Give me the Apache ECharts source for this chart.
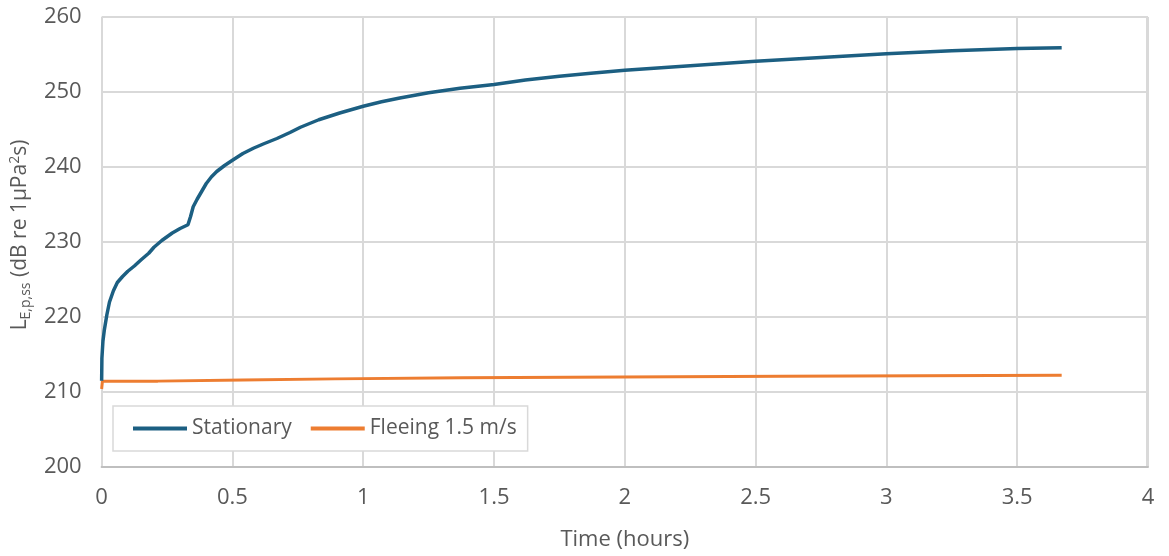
<!DOCTYPE html>
<html><head><meta charset="utf-8">
<script src="https://cdn.jsdelivr.net/npm/echarts@6/dist/echarts.min.js"></script>
<style>html,body{margin:0;padding:0;background:#fff}#c{width:1169px;height:556px}</style>
</head><body><div id="c"></div>
<script>
const stationaryT = [0, 0.001, 0.005, 0.01, 0.02, 0.03, 0.045, 0.06, 0.08, 0.1, 0.125, 0.15, 0.18, 0.2, 0.23, 0.27, 0.3, 0.33, 0.34, 0.35, 0.365, 0.38, 0.4, 0.42, 0.44, 0.47, 0.5, 0.54, 0.58, 0.62, 0.67, 0.72, 0.76, 0.83, 0.91, 1.0, 1.07, 1.14, 1.25, 1.37, 1.5, 1.62, 1.75, 1.87, 2.0, 2.25, 2.5, 2.75, 3.0, 3.25, 3.5, 3.67];
const stationaryV = [211.5, 214.5, 216.8, 218.2, 220.3, 222.0, 223.5, 224.6, 225.4, 226.1, 226.8, 227.6, 228.5, 229.3, 230.2, 231.2, 231.8, 232.3, 233.4, 234.7, 235.7, 236.6, 237.8, 238.7, 239.4, 240.2, 240.9, 241.8, 242.5, 243.1, 243.8, 244.6, 245.3, 246.3, 247.2, 248.1, 248.7, 249.2, 249.9, 250.5, 251.0, 251.6, 252.1, 252.5, 252.9, 253.5, 254.1, 254.6, 255.1, 255.5, 255.8, 255.9];
const fleeingT = [0, 0.003, 0.215, 0.54, 0.89, 1.38, 2.6, 3.67];
const fleeingV = [210.4, 211.45, 211.6, 211.75, 211.9, 212.1, 212.25, 212.25];
const xTicks = [0, 0.5, 1, 1.5, 2, 2.5, 3, 3.5, 4];
const yTicks = [200, 210, 220, 230, 240, 250, 260];
const seriesNames = ['Stationary', 'Fleeing 1.5 m/s'];

const FONT = 'Open Sans';
const TXT = '#595959';
const chart = echarts.init(document.getElementById('c'));
chart.setOption({
  animation: false,
  backgroundColor: '#fff',
  grid: {left: 101, right: 21, top: 17, bottom: 89, containLabel: false},
  legend: {
    left: 113, top: 406,
    data: seriesNames,
    backgroundColor: '#fff', borderColor: '#d9d9d9', borderWidth: 1.5,
    padding: [12, 11, 12, 20],
    itemGap: 19, itemWidth: 54, itemHeight: 4,
    icon: 'rect',
    textStyle: {fontFamily: FONT, fontSize: 21, color: TXT, padding: [0,0,0,0]}
  },
  xAxis: {
    type: 'value', min: xTicks[0], max: xTicks[xTicks.length-1], interval: 0.5,
    name: 'Time (hours)', nameLocation: 'middle', nameGap: 62,
    nameTextStyle: {fontFamily: FONT, fontSize: 22, color: TXT},
    axisLine: {show: true, lineStyle: {color: '#bfbfbf', width: 2}},
    axisTick: {show: false},
    axisLabel: {fontFamily: FONT, fontSize: 22, color: TXT, margin: 20},
    splitLine: {show: true, lineStyle: {color: '#d9d9d9', width: 2}}
  },
  yAxis: {
    type: 'value', min: yTicks[0], max: yTicks[yTicks.length-1], interval: 10,
    name: '{m|L}{s|E,p,ss}{m| (dB re 1µPa}{p|2}{m|s)}',
    nameLocation: 'middle', nameGap: 68, nameRotate: 90,
    nameTextStyle: {
      fontFamily: FONT, fontSize: 21, color: TXT, padding: [0, 0, 0, 14],
      rich: {
        m: {fontFamily: FONT, fontSize: 21, color: TXT},
        s: {fontFamily: FONT, fontSize: 14, color: TXT, padding: [12, 0, 0, 0]},
        p: {fontFamily: FONT, fontSize: 14, color: TXT, padding: [0, 0, 10, 0]}
      }
    },
    axisLine: {show: false},
    axisTick: {show: false},
    axisLabel: {fontFamily: FONT, fontSize: 22, color: TXT, margin: 20},
    splitLine: {show: true, lineStyle: {color: '#d9d9d9', width: 2}}
  },
  series: [
    {
      name: seriesNames[0], type: 'line', showSymbol: false, symbol: 'none',
      data: stationaryT.map((t, i) => [t, stationaryV[i]]),
      lineStyle: {color: '#1c5f82', width: 3.5}, itemStyle: {color: '#1c5f82'}, z: 3
    },
    {
      name: seriesNames[1], type: 'line', showSymbol: false, symbol: 'none', step: 'end',
      data: fleeingT.map((t, i) => [t, fleeingV[i]]),
      lineStyle: {color: '#ed7d31', width: 3}, itemStyle: {color: '#ed7d31'}, z: 2
    }
  ],
  graphic: [{
    type: 'line', shape: {x1: 1147, y1: 17, x2: 1147, y2: 467},
    style: {stroke: '#d9d9d9', lineWidth: 2}, silent: true
  }]
});
</script></body></html>
